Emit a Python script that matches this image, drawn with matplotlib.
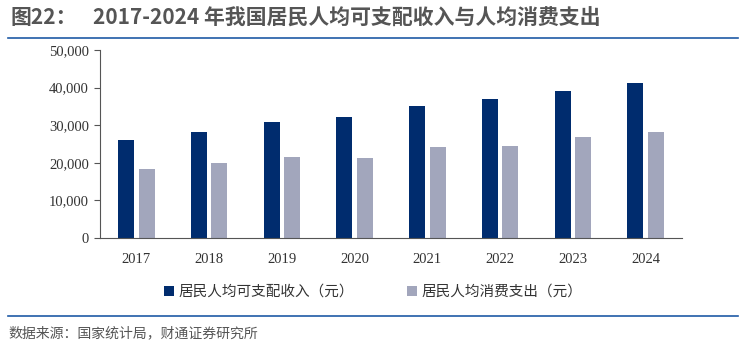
import matplotlib.pyplot as plt
from matplotlib.ticker import FuncFormatter
import numpy as np

plt.rcParams['font.family'] = ['Noto Sans CJK SC', 'DejaVu Sans']

years = ['2017', '2018', '2019', '2020', '2021', '2022', '2023', '2024']
income = [25974, 28228, 30733, 32189, 35128, 36883, 39218, 41314]
spending = [18322, 19853, 21559, 21210, 24100, 24538, 26796, 28227]
labels = ['居民人均可支配收入（元）', '居民人均消费支出（元）']

dark = '#002C6E'
light = '#A2A6BC'
line_blue = '#1F5AA6'

fig = plt.figure(figsize=(7.46, 3.56), dpi=100)
W, H = 746, 356

ax = fig.add_axes([100 / W, 1 - 238 / H, 582 / W, 188 / H])
x = np.arange(len(years))
w = 0.22
ax.bar(x - 0.14, income, w, color=dark, label=labels[0])
ax.bar(x + 0.14, spending, w, color=light, label=labels[1])

ax.set_xlim(-0.5, len(years) - 0.5)
ax.set_ylim(0, 50000)
ax.set_yticks(range(0, 50001, 10000))
ax.yaxis.set_major_formatter(FuncFormatter(lambda v, p: f'{int(v):,}'))
ax.set_xticks(x)
ax.set_xticklabels(years)
for s in ['top', 'right']:
    ax.spines[s].set_visible(False)
for s in ['left', 'bottom']:
    ax.spines[s].set_color('#555555')
    ax.spines[s].set_linewidth(0.8)
ax.tick_params(axis='y', length=4, color='#555555', labelsize=10.5,
               labelcolor='#333333', pad=4)
ax.tick_params(axis='x', length=0, labelsize=10.5, labelcolor='#333333', pad=11)
for t in ax.get_xticklabels() + ax.get_yticklabels():
    t.set_fontfamily('Liberation Serif')

leg = fig.legend(loc='center', bbox_to_anchor=(0.5, 1 - 292 / H), ncol=2,
                 frameon=False, fontsize=10.5, handlelength=0.7,
                 handleheight=0.7, handletextpad=0.3, columnspacing=3.6)
for t in leg.get_texts():
    t.set_color('#333333')

fig.text(10 / W, 1 - 18 / H, '图22：', fontsize=15, fontweight='bold',
         color='#555555', va='center')
fig.text(93 / W, 1 - 18 / H, '2017-2024 年我国居民人均可支配收入与人均消费支出',
         fontsize=15, fontweight='bold', color='#555555', va='center')
fig.add_artist(plt.Line2D([8 / W, 738 / W], [1 - 38 / H, 1 - 38 / H],
                          color=line_blue, lw=1.2))
fig.add_artist(plt.Line2D([8 / W, 738 / W], [1 - 316 / H, 1 - 316 / H],
                          color=line_blue, lw=1.2))
fig.text(8 / W, 1 - 333 / H, '数据来源：国家统计局，财通证券研究所',
         fontsize=10, color='#555555', va='center')

plt.savefig('out.png', dpi=100)
